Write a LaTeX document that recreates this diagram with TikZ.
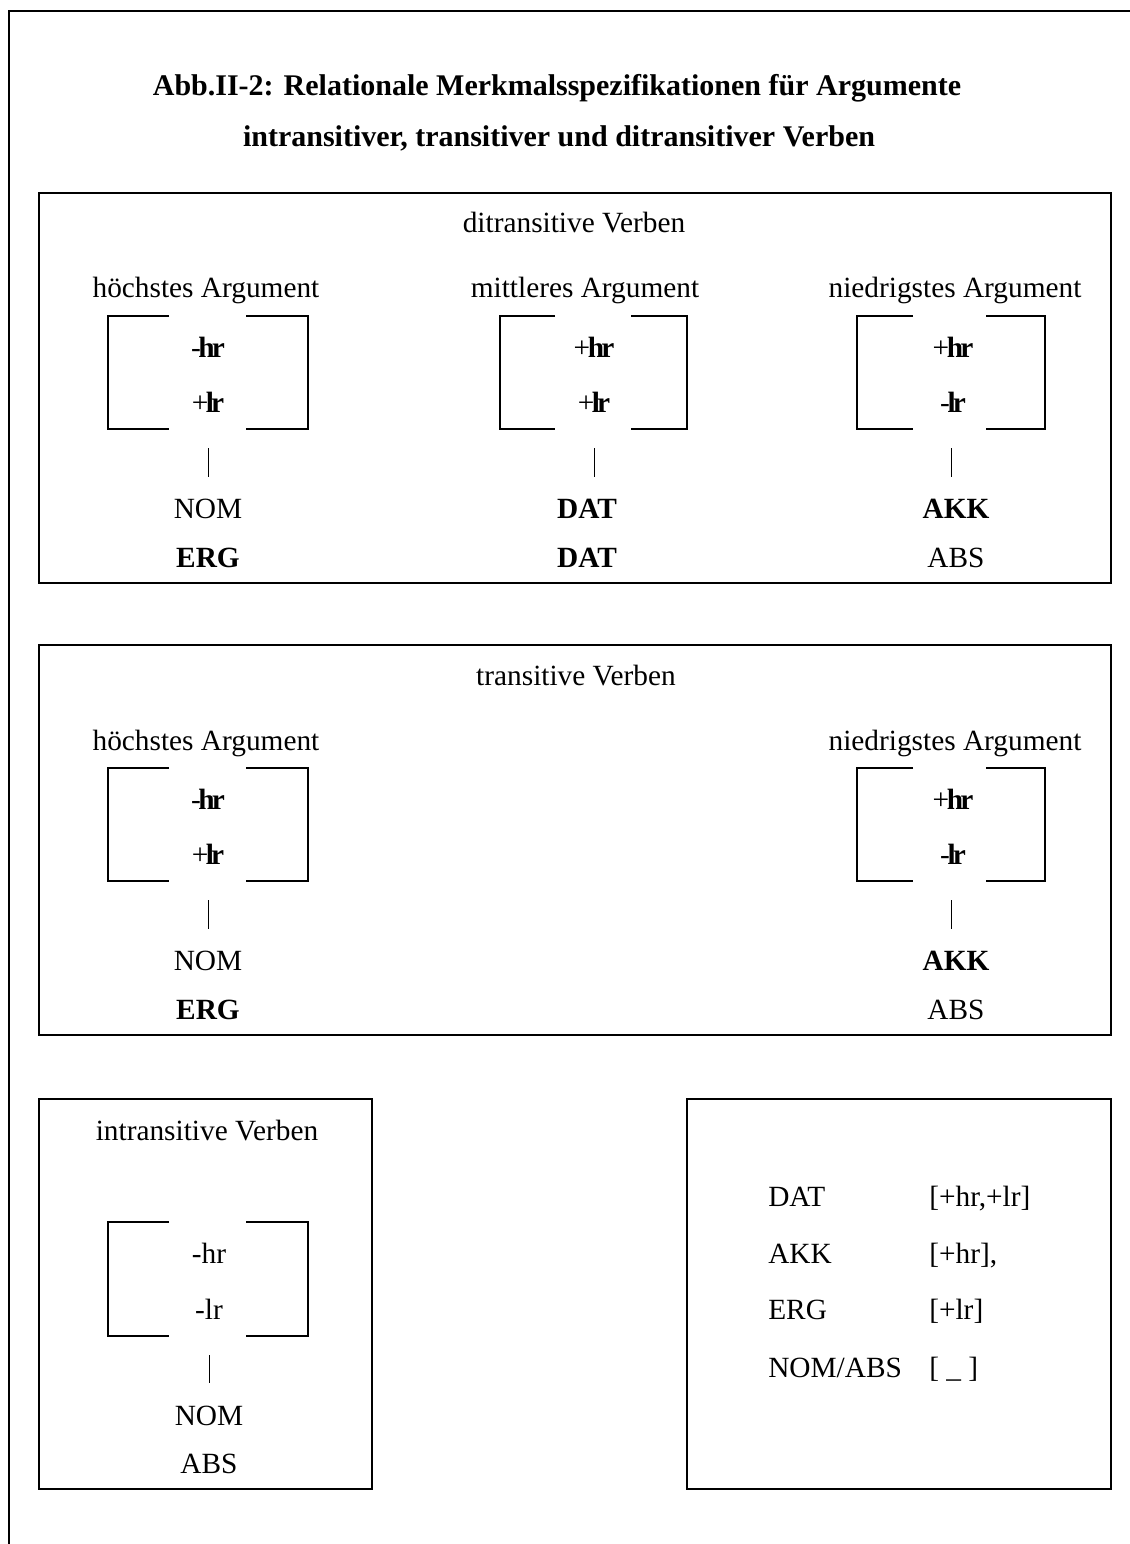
\documentclass[tikz,border=0pt]{standalone}
\usepackage{fontspec}
\setmainfont{Liberation Serif}
\newcommand\feat[3]{#1\kern-1.8pt\textbf{#2\kern-2.2pt #3}}
\newcommand\brkt[6]{%
  \draw[brk] (#2,#5) -| (#1,#6) -- (#2,#6);
  \draw[brk] (#3,#5) -| (#4,#6) -- (#3,#6);}
\tikzset{
  txt/.style={anchor=base, inner sep=0pt, font=\fontsize{22}{26}\selectfont},
  lft/.style={txt, anchor=base west},
  ttl/.style={anchor=base, inner sep=0pt, font=\fontsize{22.5}{27}\selectfont\bfseries},
  frame/.style={line width=1.5pt},
  boxline/.style={line width=1.5pt},
  brk/.style={line width=1.4pt},
  bar/.style={line width=0.7pt},
}
\begin{document}
\begin{tikzpicture}[x=0.75pt,y=-0.75pt]
\useasboundingbox (0,0) rectangle (1130,1544);
% outer frame
\draw[frame] (9,1544) -- (9,11) -- (1130,11);
% title
\node[ttl] (t1) at (557,96) {Abb.II-2: Relationale Merkmalsspezifikationen für Argumente};
\node[ttl] (t2) at (559,147) {intransitiver, transitiver und ditransitiver Verben};

% ===== ditransitive box =====
\draw[boxline] (39,193) rectangle (1111,583);
\node[txt] (dv) at (574,233) {ditransitive Verben};
\node[txt] (dh1) at (206,298) {höchstes Argument};
\node[txt] (dh2) at (585,298) {mittleres Argument};
\node[txt] (dh3) at (955,298) {niedrigstes Argument};
\brkt{108}{169}{246}{308}{316}{429}
\brkt{500}{555}{631}{687}{316}{429}
\brkt{857}{913}{986}{1045}{316}{429}
\node[txt] (df1a) at (208,357) {\feat{-}{h}{r}};
\node[txt] (df1b) at (208,412) {\feat{+}{l}{r}};
\node[txt] (df2a) at (594,357) {\feat{+}{h}{r}};
\node[txt] (df2b) at (594,412) {\feat{+}{l}{r}};
\node[txt] (df3a) at (953,357) {\feat{+}{h}{r}};
\node[txt] (df3b) at (953,412) {\feat{-}{l}{r}};
\coordinate (db1a) at (208,448); \coordinate (db1b) at (208,477);
\coordinate (db2a) at (594,448); \coordinate (db2b) at (594,477);
\coordinate (db3a) at (951,448); \coordinate (db3b) at (951,477);
\draw[bar] (db1a) -- (db1b);
\draw[bar] (db2a) -- (db2b);
\draw[bar] (db3a) -- (db3b);
\node[txt] (dc1a) at (208,518) {NOM};
\node[txt] (dc1b) at (208,567) {\textbf{ERG}};
\node[txt] (dc2a) at (587,518) {\textbf{DAT}};
\node[txt] (dc2b) at (587,567) {\textbf{DAT}};
\node[txt] (dc3a) at (956,518) {\textbf{AKK}};
\node[txt] (dc3b) at (956,567) {ABS};

% ===== transitive box =====
\draw[boxline] (39,645) rectangle (1111,1035);
\node[txt] (tv) at (576,685) {transitive Verben};
\node[txt] (th1) at (206,750) {höchstes Argument};
\node[txt] (th3) at (955,750) {niedrigstes Argument};
\brkt{108}{169}{246}{308}{768}{881}
\brkt{857}{913}{986}{1045}{768}{881}
\node[txt] (tf1a) at (208,809) {\feat{-}{h}{r}};
\node[txt] (tf1b) at (208,864) {\feat{+}{l}{r}};
\node[txt] (tf3a) at (953,809) {\feat{+}{h}{r}};
\node[txt] (tf3b) at (953,864) {\feat{-}{l}{r}};
\coordinate (tb1a) at (208,900); \coordinate (tb1b) at (208,929);
\coordinate (tb3a) at (951,900); \coordinate (tb3b) at (951,929);
\draw[bar] (tb1a) -- (tb1b);
\draw[bar] (tb3a) -- (tb3b);
\node[txt] (tc1a) at (208,970) {NOM};
\node[txt] (tc1b) at (208,1019) {\textbf{ERG}};
\node[txt] (tc3a) at (956,970) {\textbf{AKK}};
\node[txt] (tc3b) at (956,1019) {ABS};

% ===== intransitive box =====
\draw[boxline] (39,1099) rectangle (372,1489);
\node[txt] (iv) at (207,1140) {intransitive Verben};
\brkt{108}{169}{246}{308}{1222}{1336}
\node[txt] (if1) at (209,1263) {-hr};
\node[txt] (if2) at (209,1319) {-lr};
\coordinate (ib1) at (209,1355); \coordinate (ib2) at (209,1383);
\draw[bar] (ib1) -- (ib2);
\node[txt] (ic1) at (209,1425) {NOM};
\node[txt] (ic2) at (209,1473) {ABS};

% ===== summary box =====
\draw[boxline] (687,1099) rectangle (1111,1489);
\node[lft] (s1a) at (768,1206) {DAT};
\node[lft] (s1b) at (929,1206) {[+hr,+lr]};
\node[lft] (s2a) at (768,1263) {AKK};
\node[lft] (s2b) at (929,1263) {[+hr],};
\node[lft] (s3a) at (768,1319) {ERG};
\node[lft] (s3b) at (929,1319) {[+lr]};
\node[lft] (s4a) at (768,1377) {NOM/ABS};
\node[lft] (s4b) at (929,1377) {[ \_ ]};
\end{tikzpicture}
\end{document}
